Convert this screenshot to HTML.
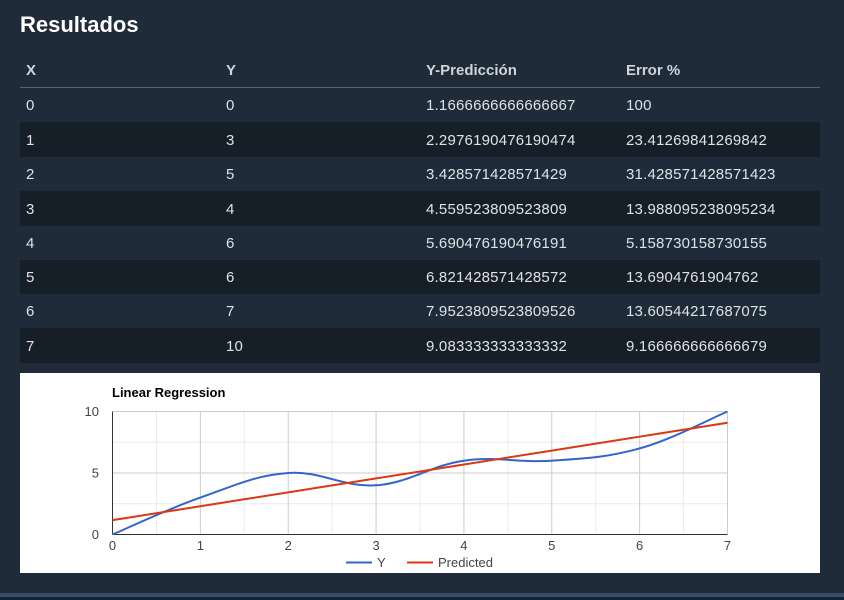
<!DOCTYPE html>
<html lang="es">
<head>
<meta charset="utf-8">
<title>Resultados</title>
<style>
html,body{margin:0;padding:0;width:844px;height:600px;overflow:hidden;background:#1f2b38;font-family:"Liberation Sans",sans-serif;}
#footer-band{position:absolute;left:0;top:593px;width:844px;height:4px;background:#3b4b60;}
#footer-base{position:absolute;left:0;top:597px;width:844px;height:3px;background:#0e2438;}
h1{position:absolute;left:20px;top:11px;margin:0;font-size:22px;line-height:28px;font-weight:bold;color:#fff;}
table{position:absolute;left:20px;top:53px;width:800px;border-collapse:separate;border-spacing:0;table-layout:fixed;color:#dee2e6;font-size:15px;letter-spacing:.2px;}
th,td{padding:1px 0 0 6px;text-align:left;box-sizing:border-box;white-space:nowrap;}
th{font-weight:bold;color:#cfd4d9;border-bottom:1px solid #56647a;height:35px;letter-spacing:0;padding-top:0;}
tr.r34 td{height:34px;}
tr.r35 td{height:35px;}
tr.odd td{background:#161e27;}
#chart{position:absolute;left:20px;top:373px;width:800px;height:200px;background:#fff;}
svg{position:absolute;left:-20px;top:-373px;display:block;}
svg text{font-family:"Liberation Sans",Arial,sans-serif;font-size:13px;fill:#444;}
</style>
</head>
<body>
<h1>Resultados</h1>
<table>
<thead><tr><th>X</th><th>Y</th><th>Y-Predicción</th><th>Error %</th></tr></thead>
<tbody>
<tr class="r34"><td>0</td><td>0</td><td>1.1666666666666667</td><td>100</td></tr>
<tr class="odd r35"><td>1</td><td>3</td><td>2.2976190476190474</td><td>23.41269841269842</td></tr>
<tr class="r34"><td>2</td><td>5</td><td>3.428571428571429</td><td>31.428571428571423</td></tr>
<tr class="odd r35"><td>3</td><td>4</td><td>4.559523809523809</td><td>13.988095238095234</td></tr>
<tr class="r34"><td>4</td><td>6</td><td>5.690476190476191</td><td>5.158730158730155</td></tr>
<tr class="odd r34"><td>5</td><td>6</td><td>6.821428571428572</td><td>13.6904761904762</td></tr>
<tr class="r34"><td>6</td><td>7</td><td>7.9523809523809526</td><td>13.60544217687075</td></tr>
<tr class="odd r35"><td>7</td><td>10</td><td>9.083333333333332</td><td>9.166666666666679</td></tr>
</tbody>
</table>
<div id="chart">
<svg id="plot" width="844" height="600" viewBox="0 0 844 600"></svg>
</div>
<div id="footer-band"></div>
<div id="footer-base"></div>
<script>
const xValues = [0, 1, 2, 3, 4, 5, 6, 7];
const yValues = [0, 3, 5, 4, 6, 6, 7, 10];
const predictedValues = [1.1666666666666667, 2.2976190476190474, 3.428571428571429, 4.559523809523809, 5.690476190476191, 6.821428571428572, 7.9523809523809526, 9.083333333333332];
const xTickLabels = [0, 1, 2, 3, 4, 5, 6, 7];
const yTickLabels = [0, 5, 10];
const xMinorTicks = [0.5, 1.5, 2.5, 3.5, 4.5, 5.5, 6.5];
const yMinorTicks = [2.5, 7.5];
const seriesNames = ['Y', 'Predicted'];

const svg = document.getElementById('plot');
const NS = 'http://www.w3.org/2000/svg';
const plotLeft = 112.5, plotRight = 727.5, plotTop = 411.5, plotBottom = 534.5;
const xMin = 0, xMax = 7, yMin = 0, yMax = 10;
function xScale(v) { return plotLeft + (v - xMin) / (xMax - xMin) * (plotRight - plotLeft); }
function yScale(v) { return plotBottom - (v - yMin) / (yMax - yMin) * (plotBottom - plotTop); }

function addLine(x1, y1, x2, y2, color, width) {
  const l = document.createElementNS(NS, 'line');
  l.setAttribute('x1', x1);
  l.setAttribute('y1', y1);
  l.setAttribute('x2', x2);
  l.setAttribute('y2', y2);
  l.setAttribute('stroke', color);
  l.setAttribute('stroke-width', width);
  svg.appendChild(l);
  return l;
}
function addText(str, x, y, anchor) {
  const t = document.createElementNS(NS, 'text');
  t.setAttribute('x', x);
  t.setAttribute('y', y);
  t.setAttribute('text-anchor', anchor);
  t.textContent = str;
  svg.appendChild(t);
  return t;
}
function smoothPath(xs, ys) {
  const pts = xs.map((v, i) => [xScale(v), yScale(ys[i])]);
  const k = 0.19;
  let d = 'M' + pts[0][0] + ' ' + pts[0][1];
  for (let i = 0; i < pts.length - 1; i++) {
    const p0 = pts[Math.max(i - 1, 0)], p1 = pts[i], p2 = pts[i + 1], p3 = pts[Math.min(i + 2, pts.length - 1)];
    const c1x = p1[0] + (p2[0] - p0[0]) * k;
    const c1y = p1[1] + (p2[1] - p0[1]) * k;
    const c2x = p2[0] - (p3[0] - p1[0]) * k;
    const c2y = p2[1] - (p3[1] - p1[1]) * k;
    d += 'C' + c1x + ' ' + c1y + ' ' + c2x + ' ' + c2y + ' ' + p2[0] + ' ' + p2[1];
  }
  return d;
}

xMinorTicks.forEach(v => {
  const g = addLine(xScale(v), plotTop, xScale(v), plotBottom, '#ebebeb', 1);
  
  
});
yMinorTicks.forEach(v => {
  const g = addLine(plotLeft, yScale(v), plotRight, yScale(v), '#ebebeb', 1);
  
  
});
xTickLabels.forEach(v => {
  const g = addLine(xScale(v), plotTop, xScale(v), plotBottom, '#cccccc', 1);
  
  
  const t = addText(v, xScale(v), 550, 'middle');
  
  
});
yTickLabels.forEach(v => {
  const g = addLine(plotLeft, yScale(v), plotRight, yScale(v), '#cccccc', 1);
  
  
  const t = addText(v, 99, yScale(v) + 4.5, 'end');
  
  
});

const xAxis = addLine(plotLeft, yScale(yMin), plotRight, yScale(yMin), '#333333', 1);


const yAxis = addLine(xScale(xMin), plotTop, xScale(xMin), plotBottom, '#333333', 1);



const yPath = document.createElementNS(NS, 'path');
yPath.setAttribute('d', smoothPath(xValues, yValues));
yPath.setAttribute('fill', 'none');
yPath.setAttribute('stroke', '#3366cc');
yPath.setAttribute('stroke-width', '2');


svg.appendChild(yPath);

const predPath = document.createElementNS(NS, 'path');
predPath.setAttribute('d', smoothPath(xValues, predictedValues));
predPath.setAttribute('fill', 'none');
predPath.setAttribute('stroke', '#dc3912');
predPath.setAttribute('stroke-width', '2');


svg.appendChild(predPath);

const title = addText('Linear Regression', 112, 397, 'start');
title.setAttribute('font-weight', 'bold');
title.setAttribute('style', 'fill:#000');



const swatchY = addLine(346, 562.5, 372, 562.5, '#3366cc', 2);


const labelY = addText(seriesNames[0], 377, 567, 'start');


const swatchP = addLine(407, 562.5, 433, 562.5, '#dc3912', 2);


const labelP = addText(seriesNames[1], 438, 567, 'start');


</script>
</body>
</html>
